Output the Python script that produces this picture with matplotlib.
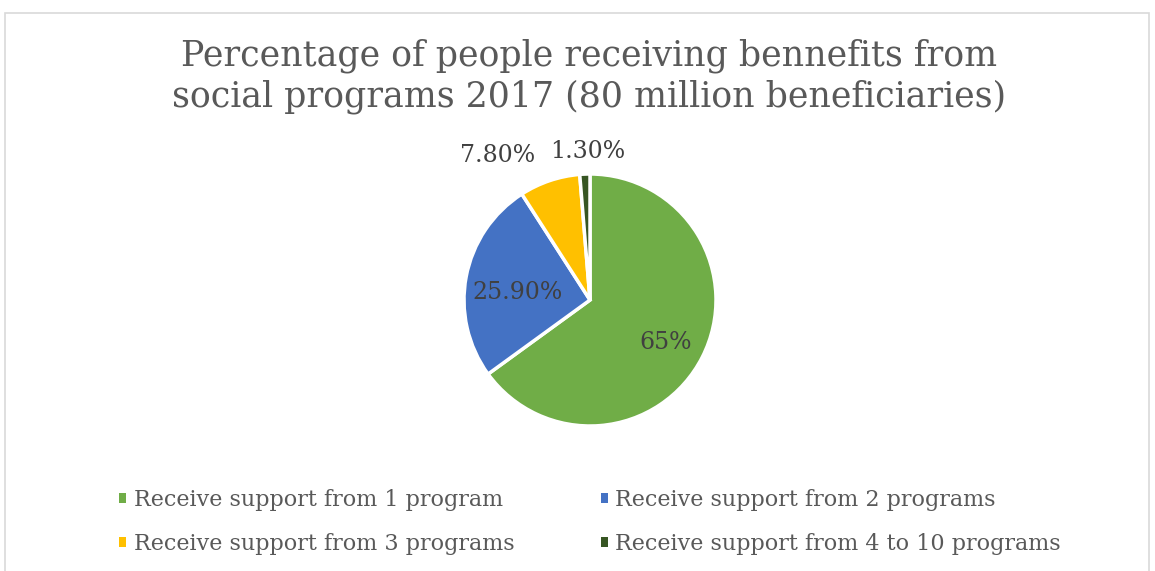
import numpy as np
import matplotlib
import matplotlib.pyplot as plt
from matplotlib.patches import Rectangle

matplotlib.use("agg")

labels = [
    "Receive support from 1 program",
    "Receive support from 2 programs",
    "Receive support from 3 programs",
    "Receive support from 4 to 10 programs",
]
shares = [65.0, 25.9, 7.8, 1.3]
pct_text = ["65%", "25.90%", "7.80%", "1.30%"]
colors = ["#70AD47", "#4472C4", "#FFC000", "#375623"]

# label placement: (radius factor, angle nudge in degrees)
label_style = [
    (0.69, -2),
    (0.58, 5),
    (1.36, 14),
    (1.18, -1.5),
]

W, H = 1155, 571
fig = plt.figure(figsize=(W / 100, H / 100), dpi=100)
fig.patch.set_facecolor("white")

# chart frame
fig.patches.append(Rectangle((5 / W, -0.05), 1144 / W, 1 - 13 / H + 0.05,
                             transform=fig.transFigure, fill=False,
                             edgecolor="#D9D9D9", linewidth=1.2))

cx, cy, r = 590, 300, 126
ax = fig.add_axes([(cx - r) / W, (H - cy - r) / H, 2 * r / W, 2 * r / H])
wedges, _ = ax.pie(shares, colors=colors, startangle=90, counterclock=False,
                   wedgeprops=dict(edgecolor="white", linewidth=2.5))
ax.set_xlim(-1, 1)
ax.set_ylim(-1, 1)
ax.set_aspect("equal")
ax.axis("off")

for w, txt, (dist, nudge) in zip(wedges, pct_text, label_style):
    mid = np.deg2rad((w.theta1 + w.theta2) / 2 + nudge)
    ax.text(dist * np.cos(mid), dist * np.sin(mid), txt, ha="center", va="center",
            fontsize=17, color="#404040", family="DejaVu Serif", clip_on=False)

fig.text(589 / W, 1 - 76 / H, "Percentage of people receiving bennefits from\n"
         "social programs 2017 (80 million beneficiaries)",
         ha="center", va="center", fontsize=25, color="#595959",
         family="DejaVu Serif", linespacing=1.22)

# legend reads row by row, matplotlib fills column by column
order = [0, 2, 1, 3]
leg = fig.legend([wedges[i] for i in order], [labels[i] for i in order],
                 loc="center", bbox_to_anchor=(0.511, 1 - 522 / H),
                 ncol=2, frameon=False, handlelength=0.3, handleheight=0.3,
                 handletextpad=0.35, columnspacing=3.9, labelspacing=0.98,
                 prop={"family": "DejaVu Serif", "size": 16})
for t in leg.get_texts():
    t.set_color("#595959")
for h in leg.legend_handles:
    h.set_edgecolor("none")

fig.savefig("out.png", dpi=100)
